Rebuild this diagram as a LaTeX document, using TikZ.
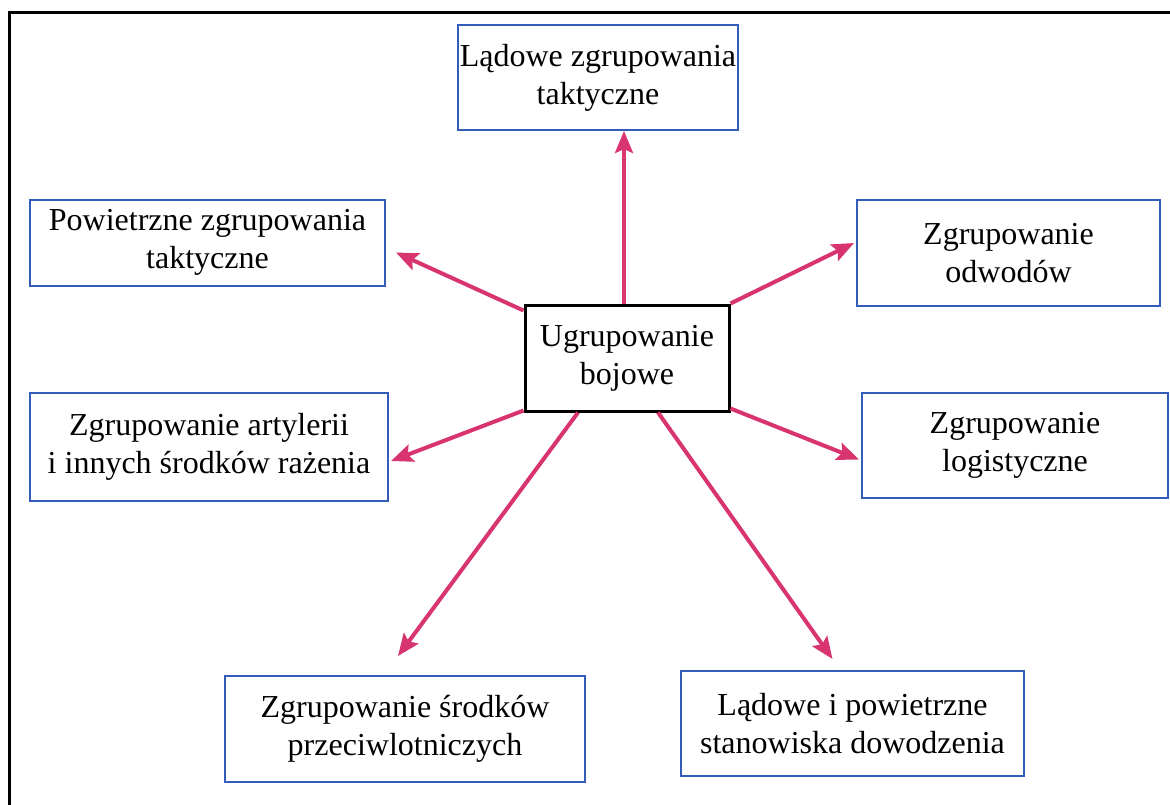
\documentclass[tikz,border=0pt]{standalone}
\usepackage{fontspec}
\setmainfont{Liberation Serif}
\usetikzlibrary{arrows.meta}
\definecolor{boxblue}{RGB}{52,92,186}
\definecolor{arrowpink}{RGB}{216,52,112}
\begin{document}
\begin{tikzpicture}[x=0.5pt, y=-0.5pt, font=\fontsize{16}{19}\selectfont, unit/.style = {shape=rectangle, draw=boxblue, line width=1pt, align=center, fill=white, inner sep=0pt}, core/.style = {shape=rectangle, draw=black, line width=1.5pt, align=center, fill=white, inner sep=0pt, minimum width=102pt, minimum height=53pt}, link/.style = {draw=arrowpink, line width=2pt, -{Stealth[length=11pt, width=9pt, inset=2pt]}}]
	\useasboundingbox (0,0) rectangle (1170,804);
	\draw[line width=1.5pt] (9,12) rectangle (1190,830);
	\node[core] (core) at (627,358) {Ugrupowanie\\bojowe};
	\node[unit, minimum width=140pt, minimum height=52.5pt] (land) at (598,77.5) {Lądowe zgrupowania\\taktyczne};
	\node[unit, minimum width=177.5pt, minimum height=43pt] (air) at (207.5,242.5) {Powietrzne zgrupowania\\taktyczne};
	\node[unit, minimum width=151.5pt, minimum height=53pt] (reserve) at (1008.5,253) {Zgrupowanie\\odwodów};
	\node[unit, minimum width=179pt, minimum height=54pt] (arty) at (209,447) {Zgrupowanie artylerii\\i innych środków rażenia};
	\node[unit, minimum width=153pt, minimum height=52.5pt] (logi) at (1015,445.5) {Zgrupowanie\\logistyczne};
	\node[unit, minimum width=180pt, minimum height=53pt] (aa) at (405,729) {Zgrupowanie środków\\przeciwlotniczych};
	\node[unit, minimum width=171.5pt, minimum height=52.5pt] (cmd) at (852.5,723.5) {Lądowe i powietrzne\\stanowiska dowodzenia};
	% arrows from the centre
	\draw[link] ([xshift=-1.5pt]core.north) -- ([xshift=-1.5pt]core.north |- land.south);
	\draw[link] ([yshift=-3.5pt]core.north west) -- ([xshift=5pt, yshift=-5pt]air.east);
	\draw[link] (core.north east) -- ([xshift=-1pt, yshift=5pt]reserve.west);
	\draw[link] ([yshift=1pt]core.south west) -- ([xshift=1pt, yshift=-7pt]arty.east);
	\draw[link] ([yshift=2pt]core.south east) -- ([xshift=-1pt, yshift=-7pt]logi.west);
	\draw[link] ([xshift=-24.5pt]core.south) -- ([xshift=-3.5pt, yshift=9.5pt]aa.north);
	\draw[link] ([xshift=15.5pt]core.south) -- ([xshift=-10pt, yshift=5.5pt]cmd.north);
\end{tikzpicture}
\end{document}
